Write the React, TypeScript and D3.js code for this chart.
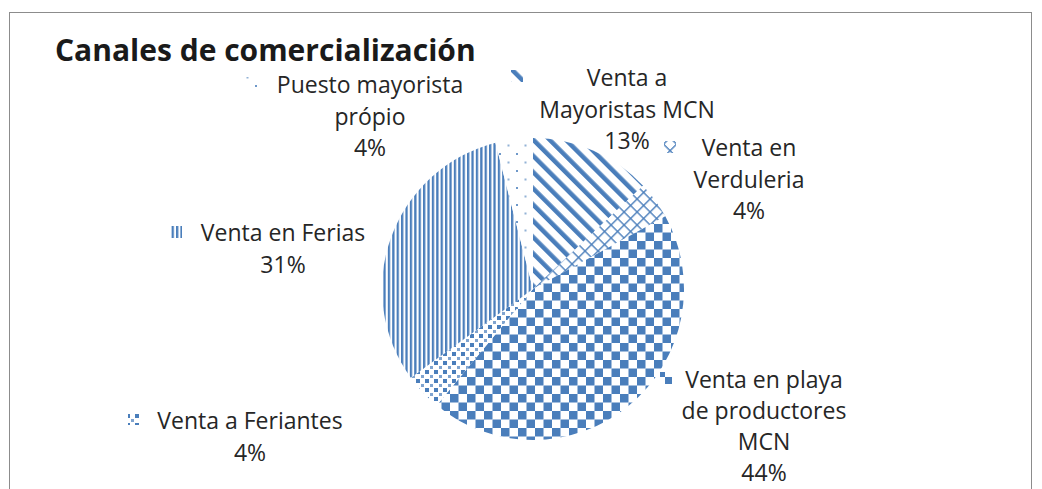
import React from "react";
import * as d3 from "d3";

const title = "Canales de comercialización";
const categories = [
  "Venta a Mayoristas MCN",
  "Venta en Verduleria",
  "Venta en playa de productores MCN",
  "Venta a Feriantes",
  "Venta en Ferias",
  "Puesto mayorista própio",
];
const values = [13, 4, 44, 4, 31, 4];
const labelLines = [
  ["Venta a", "Mayoristas MCN"],
  ["Venta en", "Verduleria"],
  ["Venta en playa", "de productores", "MCN"],
  ["Venta a Feriantes"],
  ["Venta en Ferias"],
  ["Puesto mayorista", "própio"],
];
const patternIds = ["pDiag", "pLattice", "pChecker", "pSmallSq", "pVert", "pDots"];

// layout: label block center x, first line center y, key position, line spacing
const labelLayout = [
  { cx: 627, y0: 77, kx: 511, ky: 70, lh: 31.5 },
  { cx: 749, y0: 147, kx: 664, ky: 141, lh: 31.5 },
  { cx: 764, y0: 379, kx: 660, ky: 372, lh: 31 },
  { cx: 250, y0: 420, kx: 128, ky: 413, lh: 31.5 },
  { cx: 283, y0: 232, kx: 170, ky: 226, lh: 31.5 },
  { cx: 370, y0: 84, kx: 246, ky: 77, lh: 31.5 },
];

const W = 1042;
const H = 489;
const BLUE = "#4a7ebb";
const CX = 533;
const CY = 289;
const R = 151;
const FONT = "'Open Sans', 'Liberation Sans', sans-serif";

export default function App() {
  const pie = d3.pie<number>().sort(null).value((d) => d)(values);
  const arc = d3.arc<d3.PieArcDatum<number>>().innerRadius(0).outerRadius(R);
  const total = d3.sum(values);
  const fmt = (v: number) => `${Math.round((v / total) * 100)}%`;

  return (
    <svg
      width={W}
      height={H}
      style={{ position: "absolute", left: 0, top: 0, background: "#fff" }}
    >
      <defs>
        <pattern id="pChecker" patternUnits="userSpaceOnUse" width={17} height={17} x={2} y={3}>
          <rect width={17} height={17} fill="#fff" />
          <rect width={8.5} height={8.5} fill={BLUE} />
          <rect x={8.5} y={8.5} width={8.5} height={8.5} fill={BLUE} />
        </pattern>
        <pattern id="pVert" patternUnits="userSpaceOnUse" width={4.4} height={10}>
          <rect width={4.4} height={10} fill="#fff" />
          <rect width={2.3} height={10} fill={BLUE} />
        </pattern>
        <pattern
          id="pDiag"
          patternUnits="userSpaceOnUse"
          width={11.5}
          height={10}
          patternTransform="rotate(-45)"
        >
          <rect width={11.5} height={10} fill="#fff" />
          <rect width={4.5} height={10} fill={BLUE} />
        </pattern>
        <pattern
          id="pLattice"
          patternUnits="userSpaceOnUse"
          width={9.2}
          height={9.2}
          patternTransform="rotate(45)"
        >
          <rect width={9.2} height={9.2} fill="#fff" />
          <rect width={1.4} height={9.2} fill={BLUE} />
          <rect width={9.2} height={1.4} fill={BLUE} />
        </pattern>
        <pattern id="pSmallSq" patternUnits="userSpaceOnUse" width={9} height={9}>
          <rect width={9} height={9} fill="#fff" />
          <rect x={0} y={0} width={4} height={4} fill={BLUE} />
          <rect x={5} y={5} width={3} height={3} fill={BLUE} opacity={0.7} />
        </pattern>
        <pattern id="pDots" patternUnits="userSpaceOnUse" width={17} height={17}>
          <rect width={17} height={17} fill="#fff" />
          <rect x={0} y={0} width={2} height={2} fill={BLUE} opacity={0.8} />
          <rect x={8.5} y={8.5} width={2} height={2} fill={BLUE} opacity={0.6} />
        </pattern>
      </defs>

      <rect x={9.5} y={12.5} width={1022} height={490} fill="#fff" stroke="#8c8c8c" strokeWidth={1} />

      <text x={55} y={61} fontFamily={FONT} fontWeight="bold" fontSize={30} fill="#1a1a1a">
        {title}
      </text>

      <g transform={`translate(${CX},${CY})`}>
        {pie.map((d, i) => (
          <path key={categories[i]} d={arc(d) || ""} fill={`url(#${patternIds[i]})`} />
        ))}
      </g>

      {pie.map((d, i) => {
        const L = labelLayout[i];
        const lines = [...labelLines[i], fmt(d.value)];
        return (
          <g key={"lab" + i}>
            <rect x={L.kx} y={L.ky} width={12} height={12} fill={`url(#${patternIds[i]})`} />
            {lines.map((t, j) => (
              <text
                key={j}
                x={L.cx}
                y={L.y0 + j * L.lh}
                textAnchor="middle"
                dominantBaseline="central"
                fontFamily={FONT}
                fontSize={23}
                fill="#262626"
              >
                {t}
              </text>
            ))}
          </g>
        );
      })}
    </svg>
  );
}
